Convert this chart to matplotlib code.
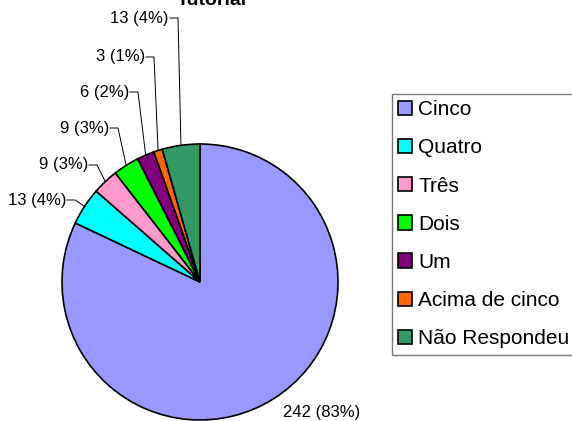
import matplotlib
matplotlib.use("Agg")
import matplotlib.pyplot as plt
import numpy as np

plt.rcParams['font.family'] = ['Liberation Sans', 'DejaVu Sans']

# data
categories = ['Cinco', 'Quatro', 'Três', 'Dois', 'Um', 'Acima de cinco', 'Não Respondeu']
counts = [242, 13, 9, 9, 6, 3, 13]
percents = [83, 4, 3, 3, 2, 1, 4]
colors = ['#9999FF', '#00FFFF', '#FF99CC', '#00FF00', '#800080', '#FF6600', '#339966']
title = 'Tutorial'

W, H = 572, 421
fig = plt.figure(figsize=(W / 100, H / 100), dpi=100)
ax = fig.add_axes([0, 0, 1, 1])

cx, cy, r = 200, H - 282, 138
wedges, _ = ax.pie(counts, colors=colors, startangle=90, counterclock=False,
                   center=(cx, cy), radius=r,
                   wedgeprops=dict(edgecolor='black', linewidth=1.2))
ax.set_xlim(0, W)
ax.set_ylim(0, H)
ax.set_aspect('equal')
ax.axis('off')

# elbow points of the leader lines (pixels from top-left), one per small slice
elbows = [None, (75, 200), (97, 165), (118, 128), (138, 92), (154, 57), (178, 18)]

for w, n, p, e in zip(wedges, counts, percents, elbows):
    label = f"{n} ({p}%)"
    if e is None:
        ax.text(322, H - 413, label, ha='center', va='center', fontsize=12)
        continue
    mid = np.deg2rad((w.theta1 + w.theta2) / 2)
    rx, ry = cx + r * np.cos(mid), cy + r * np.sin(mid)
    ex, ey = e[0], H - e[1]
    ax.plot([rx, ex, ex - 8], [ry, ey, ey], color='black', lw=0.7)
    ax.text(ex - 9, ey, label, ha='right', va='center', fontsize=12)

fig.text(212 / W, 1 - 5 / H, title, ha='center', va='baseline',
         fontsize=14, fontweight='bold')

leg = ax.legend(wedges, categories, loc='upper left',
                bbox_to_anchor=(392 / W, 1 - 94 / H), bbox_transform=fig.transFigure,
                fontsize=15, frameon=True, fancybox=False, borderaxespad=0,
                borderpad=0.3, handlelength=0.68, handleheight=0.68,
                handletextpad=0.28, labelspacing=0.92)
leg.get_frame().set_edgecolor('#555555')
leg.get_frame().set_linewidth(1.0)

fig.savefig('out.png', dpi=100)
